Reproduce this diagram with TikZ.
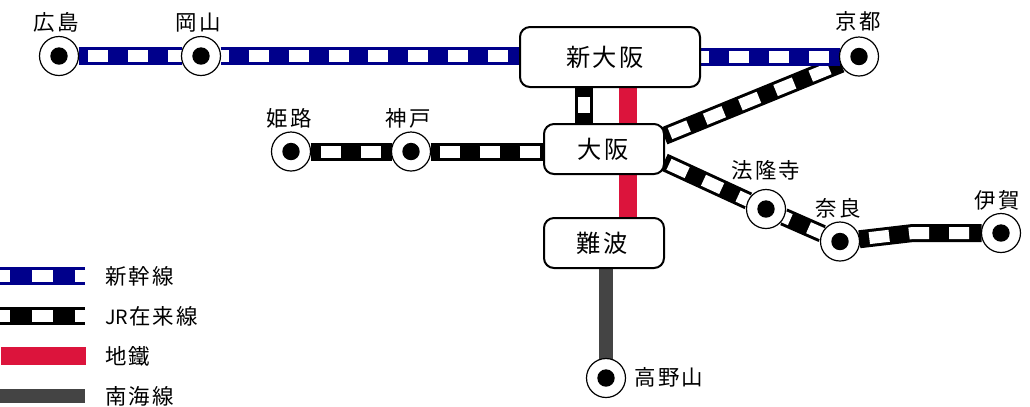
\documentclass[tikz,border=0pt]{standalone}
\usepackage{fontspec}
\newfontfamily\jpfont[LetterSpace=10]{Noto Sans CJK JP}
\newfontfamily\jrfont{Noto Sans CJK JP}
\usetikzlibrary{backgrounds}
\definecolor{shinkansen}{HTML}{00008B}
\definecolor{subway}{HTML}{DC143C}
\definecolor{nankai}{HTML}{444444}
\tikzset{
  raildash/.style n args={3}{draw=#1,line width=.18cm,postaction={draw=white,line width=.12cm,dash pattern=#3,dash phase=#2}},
  rail/.style 2 args={raildash={#1}{#2}{on .2cm off .2cm}},
  station/.style={circle,draw=black,fill=white,line width=.012cm,minimum size=.39cm,inner sep=0pt,outer sep=0pt,
    path picture={\fill[black] (path picture bounding box.center) circle (.087);}},
  terminal/.style={draw=black,fill=white,rounded corners=.1cm,line width=.02cm,inner sep=0pt,outer sep=0pt,font=\fontsize{6.9}{7}\selectfont\jpfont},
  placename/.style={inner sep=0pt,font=\fontsize{6.1}{6}\selectfont\jpfont},
  legendname/.style={placename,anchor=west}
}
\begin{document}
\begin{tikzpicture}[x=1cm,y=-1cm]
\useasboundingbox (0,0) rectangle (10.3,4.06);
\node[station] (hiroshima) at (.59,.56) {};
\node[station] (okayama) at (2.01,.56) {};
\node[station] (kyoto) at (8.59,.565) {};
\node[station] (himeji) at (2.91,1.515) {};
\node[station] (kobe) at (4.11,1.515) {};
\node[station] (horyuji) at (7.66,2.09) {};
\node[station] (nara) at (8.4,2.415) {};
\node[station] (iga) at (10.01,2.33) {};
\node[station] (koyasan) at (6.06,3.78) {};
\node[terminal,minimum width=1.8cm,minimum height=.6cm] (shinosaka) at (6.1,.57) {\kern-.05cm\raisebox{.012cm}{新大阪}\kern.05cm};
\node[terminal,minimum width=1.2cm,minimum height=.5cm] (osaka) at (6.04,1.49) {\kern-.01cm\raisebox{.01cm}{大阪}\kern.01cm};
\node[terminal,minimum width=1.2cm,minimum height=.5cm] (namba) at (6.04,2.43) {\kern-.02cm 難波\kern.02cm};
\node[placename] (hiroshimaname) at (.56,.225) {広島};
\node[placename] (okayamaname) at (1.98,.225) {岡山};
\node[placename] (kyotoname) at (8.58,.215) {京都};
\node[placename] (himejiname) at (2.89,1.185) {姫路};
\node[placename] (kobename) at (4.08,1.185) {神戸};
\node[placename] (horyujiname) at (7.66,1.7) {法隆寺};
\node[placename] (naraname) at (8.38,2.08) {奈良};
\node[placename] (iganame) at (9.97,2.0) {伊賀};
\node[placename] (koyasanname) at (6.69,3.77) {高野山};
\node[legendname] (shinkansenname) at (1.045,2.76) {新幹線};
\node[legendname] (jrname) at (1.045,3.16) {{\jrfont\fontsize{5.6}{6}\selectfont JR}\kern.01cm 在来線};
\node[legendname] (subwayname) at (1.045,3.56) {地鐵};
\node[legendname] (nankainame) at (1.045,3.96) {南海線};
\coordinate (jrlink) at (5.84,1);
\coordinate (subwayline) at (6.28,1);
\coordinate (nankailine) at (6.06,3);
\coordinate (nara bend) at (9.13,2.33);
\coordinate (osaka kyoto) at ([yshift=.13cm]osaka.east);
\coordinate (osaka horyuji) at ([yshift=-.13cm]osaka.east);
\coordinate (jr start) at (0,3.155);
\coordinate (jr end) at (.85,3.155);
\coordinate (shinkansen start) at (0,2.76);
\coordinate (shinkansen end) at (.85,2.76);
\coordinate (subway start) at (.01,3.56);
\coordinate (subway end) at (.86,3.56);
\coordinate (nankai start) at (0,3.96);
\coordinate (nankai end) at (.85,3.96);
\begin{scope}[on background layer]
\draw[rail={black}{.3cm}] (himeji) -- (kobe);
\draw[rail={black}{.31cm}] (kobe) -- (kobe -| osaka.west);
\draw[raildash={black}{.3cm}{on .16cm off .24cm}] (shinosaka.south -| jrlink) -- (osaka.north -| jrlink);
\draw[raildash={black}{.315cm}{on .2cm off .18cm}] (osaka kyoto) -- (kyoto);
\draw[raildash={black}{.325cm}{on .2cm off .18cm}] (osaka horyuji) -- (horyuji);
\draw[rail={black}{.13cm}] (horyuji) -- (nara);
\draw[rail={black}{.3cm}] (nara) -- (nara bend) -- (iga);
\draw[rail={shinkansen}{.3cm}] (hiroshima) -- (okayama);
\draw[rail={shinkansen}{.12cm}] (okayama) -- (okayama -| shinosaka.west);
\draw[rail={shinkansen}{.11cm}] (kyoto -| shinosaka.east) -- (kyoto);
\draw[subway,line width=.18cm] (shinosaka.south -| subwayline) -- (osaka.north -| subwayline);
\draw[subway,line width=.18cm] (osaka.south -| subwayline) -- (namba.north -| subwayline);
\draw[nankai,line width=.14cm] (namba.south -| nankailine) -- (koyasan);
\end{scope}
% legend
\draw[raildash={shinkansen}{.11cm}{on .215cm off .215cm}] (shinkansen start) -- (shinkansen end);
\draw[raildash={black}{.11cm}{on .215cm off .215cm}] (jr start) -- (jr end);
\draw[subway,line width=.18cm] (subway start) -- (subway end);
\draw[nankai,line width=.14cm] (nankai start) -- (nankai end);
\end{tikzpicture}
\end{document}
